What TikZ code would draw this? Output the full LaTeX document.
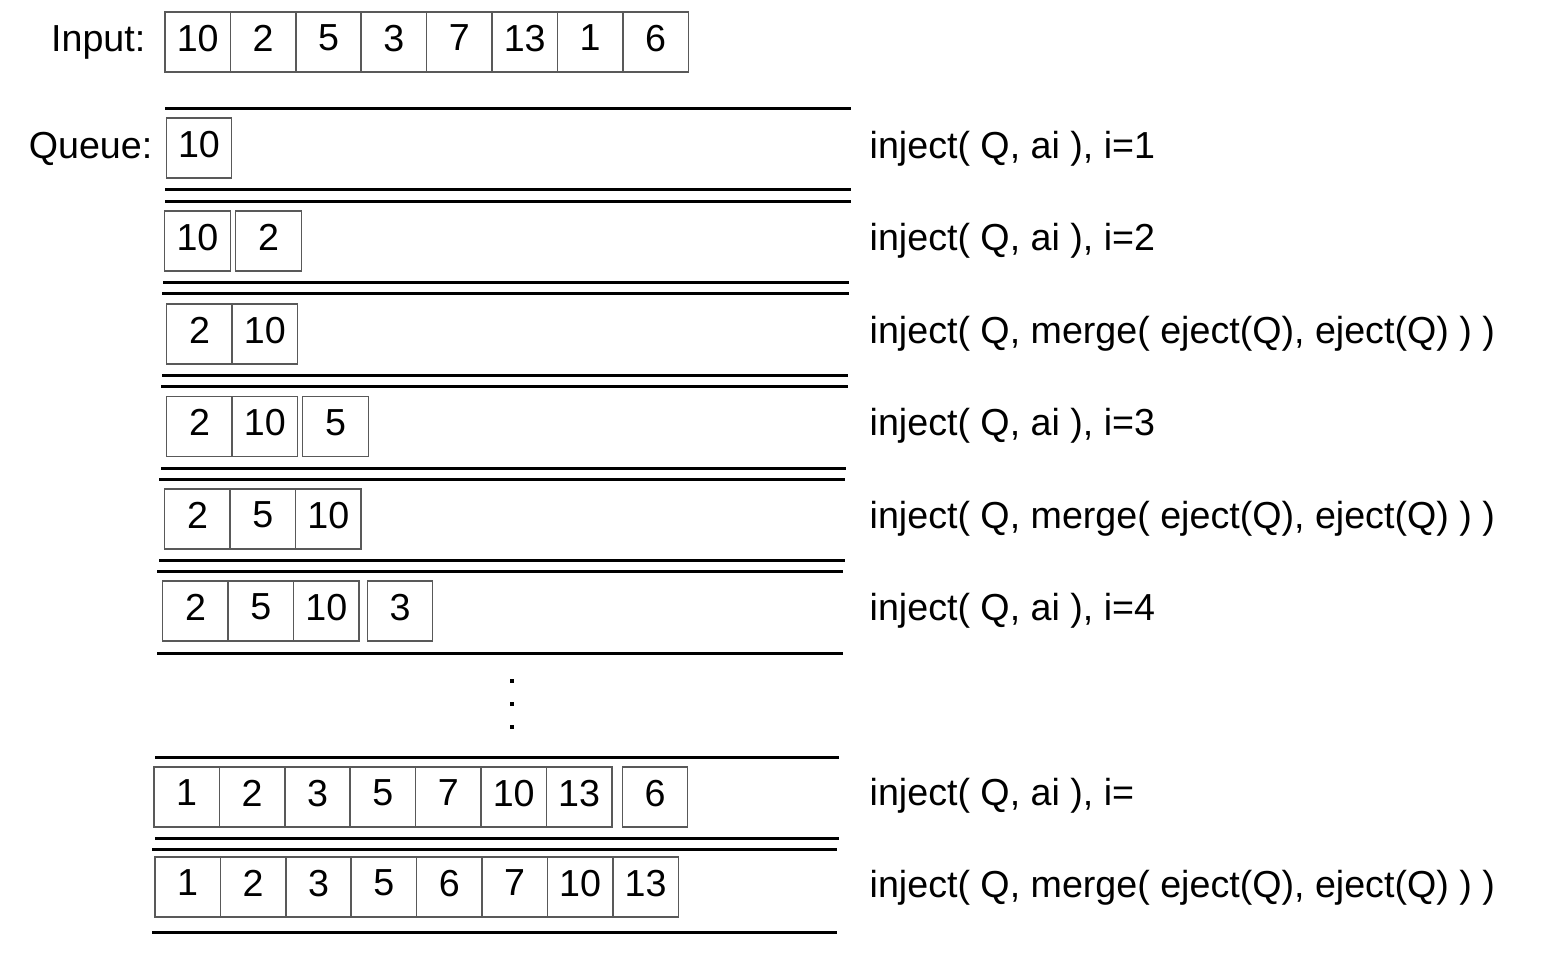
\documentclass[tikz,border=0pt]{standalone}
\usepackage{fontspec}
\setmainfont{Liberation Sans}

\tikzset{
  cell/.style={draw=black!65, line width=0.4pt, minimum width=0.654cm, minimum height=0.6cm,
    inner sep=0pt, outer sep=0pt, text depth=0.08cm},
  rail/.style={line width=0.03cm},
  step label/.style={anchor=base west, inner sep=0pt},
  head label/.style={anchor=base east, inner sep=0pt}
}

\begin{document}
\begin{tikzpicture}[x=0.01cm, y=-0.01cm, font=\fontsize{10.7}{13}\selectfont]

\useasboundingbox (0,0) rectangle (1546,963);

% Input

\node[head label] (Input) at (146,51) {Input:};
\node[cell] (In_1) at (197.7,42) {10};
\node[cell] (In_2) at (263.1,42) {2};
\node[cell] (In_3) at (328.5,42) {5};
\node[cell] (In_4) at (393.9,42) {3};
\node[cell] (In_5) at (459.3,42) {7};
\node[cell] (In_6) at (524.7,42) {13};
\node[cell] (In_7) at (590.1,42) {1};
\node[cell] (In_8) at (655.5,42) {6};

% Row 1

\node[head label] (Queue) at (153,158) {Queue:};
\draw[rail] (165,108) -- (851,108);
\draw[rail] (165,189) -- (851,189);
\node[cell] (Q1_1) at (199,148) {10};
\node[step label] (S1) at (869,158) {inject( Q, ai ), i=1};

% Row 2

\draw[rail] (165,201) -- (851,201);
\draw[rail] (163,282) -- (849,282);
\node[cell] (Q2_1) at (197.5,241) {10};
\node[cell] (Q2_2) at (268.5,241) {2};
\node[step label] (S2) at (869,250) {inject( Q, ai ), i=2};

% Row 3

\draw[rail] (162,293) -- (849,293);
\draw[rail] (162,375) -- (848,375);
\node[cell] (Q3_1) at (199.5,334) {2};
\node[cell] (Q3_2) at (264.9,334) {10};
\node[step label] (S3) at (869,343) {inject( Q, merge( eject(Q), eject(Q) ) )};

% Row 4

\draw[rail] (161,386) -- (848,386);
\draw[rail] (161,468) -- (846,468);
\node[cell] (Q4_1) at (199.5,426.5) {2};
\node[cell] (Q4_2) at (264.9,426.5) {10};
\node[cell] (Q4_3) at (335.5,426.5) {5};
\node[step label] (S4) at (869,435) {inject( Q, ai ), i=3};

% Row 5

\draw[rail] (159,479) -- (845,479);
\draw[rail] (159,560) -- (845,560);
\node[cell] (Q5_1) at (197.5,519) {2};
\node[cell] (Q5_2) at (262.9,519) {5};
\node[cell] (Q5_3) at (328.3,519) {10};
\node[step label] (S5) at (869,528) {inject( Q, merge( eject(Q), eject(Q) ) )};

% Row 6

\draw[rail] (157,571) -- (843,571);
\draw[rail] (157,653) -- (843,653);
\node[cell] (Q6_1) at (195.5,611) {2};
\node[cell] (Q6_2) at (260.9,611) {5};
\node[cell] (Q6_3) at (326.3,611) {10};
\node[cell] (Q6_4) at (400,611) {3};
\node[step label] (S6) at (869,620) {inject( Q, ai ), i=4};

% Dots

\fill (510,679) rectangle (514,683);
\fill (510,702) rectangle (514,706);
\fill (510,725) rectangle (514,729);

% Row 7

\draw[rail] (155,757) -- (839,757);
\draw[rail] (155,838) -- (839,838);
\node[cell] (Q7_1) at (186.7,797) {1};
\node[cell] (Q7_2) at (252.1,797) {2};
\node[cell] (Q7_3) at (317.5,797) {3};
\node[cell] (Q7_4) at (382.9,797) {5};
\node[cell] (Q7_5) at (448.3,797) {7};
\node[cell] (Q7_6) at (513.7,797) {10};
\node[cell] (Q7_7) at (579.1,797) {13};
\node[cell] (Q7_8) at (655,797) {6};
\node[step label] (S7) at (869,805) {inject( Q, ai ), i=};

% Row 8

\draw[rail] (152,849) -- (837,849);
\draw[rail] (152,932) -- (837,932);
\node[cell] (Q8_1) at (187.7,887) {1};
\node[cell] (Q8_2) at (253.1,887) {2};
\node[cell] (Q8_3) at (318.5,887) {3};
\node[cell] (Q8_4) at (383.9,887) {5};
\node[cell] (Q8_5) at (449.3,887) {6};
\node[cell] (Q8_6) at (514.7,887) {7};
\node[cell] (Q8_7) at (580.1,887) {10};
\node[cell] (Q8_8) at (645.5,887) {13};
\node[step label] (S8) at (869,897) {inject( Q, merge( eject(Q), eject(Q) ) )};

\end{tikzpicture}
\end{document}
